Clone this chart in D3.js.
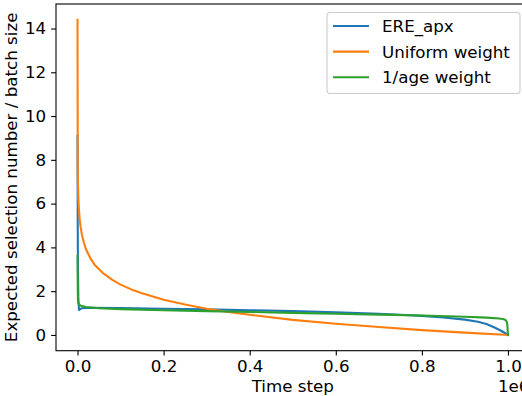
<!DOCTYPE html>
<html>
<head>
<meta charset="utf-8">
<script src="https://cdn.jsdelivr.net/npm/d3@7"></script>
<style>
body { margin: 0; background: #fff; }
svg { display: block; font-family: "DejaVu Sans", sans-serif; }
.axis text { font-size: 16.7px; fill: #000; font-family: "DejaVu Sans", sans-serif; }
.axis path, .axis line { stroke: #000; stroke-width: 1.1; }
</style>
</head>
<body>
<svg id="chart" width="522" height="396"></svg>
<script>
// time step in units of 1e6
var ereTime = [0, 0.0005, 0.001, 0.002, 0.0035, 0.006, 0.01, 0.03, 0.1, 0.2, 0.3, 0.4, 0.5, 0.6, 0.7, 0.75, 0.8, 0.85, 0.9, 0.93, 0.95, 0.97, 0.985, 1.0];
var ereValue = [9.1, 5.0, 3.0, 1.6, 1.14, 1.18, 1.22, 1.24, 1.23, 1.2, 1.17, 1.13, 1.09, 1.04, 0.97, 0.92, 0.87, 0.8, 0.7, 0.6, 0.5, 0.33, 0.18, 0];

var uniformTime = [0, 0.0005, 0.001, 0.002, 0.003, 0.005, 0.007, 0.01, 0.015, 0.02, 0.03, 0.04, 0.05, 0.06, 0.08, 0.1, 0.125, 0.15, 0.2, 0.25, 0.3, 0.35, 0.4, 0.5, 0.6, 0.7, 0.8, 0.9, 1.0];
var uniformValue = [14.4, 7.6, 6.9, 6.2, 5.8, 5.3, 4.96, 4.6, 4.2, 3.9, 3.5, 3.2, 3.0, 2.81, 2.53, 2.3, 2.08, 1.9, 1.61, 1.39, 1.2, 1.05, 0.92, 0.69, 0.51, 0.36, 0.22, 0.105, 0];

var ageTime = [0, 0.0005, 0.001, 0.002, 0.005, 0.01, 0.02, 0.05, 0.1, 0.2, 0.3, 0.4, 0.5, 0.6, 0.7, 0.8, 0.9, 0.95, 0.98, 0.99, 0.995, 0.998, 0.999, 1.0];
var ageValue = [3.6, 2.2, 1.6, 1.45, 1.36, 1.32, 1.28, 1.22, 1.18, 1.13, 1.09, 1.05, 1.01, 0.97, 0.93, 0.89, 0.83, 0.79, 0.75, 0.72, 0.67, 0.55, 0.3, 0];

var seriesNames = ["ERE_apx", "Uniform weight", "1/age weight"];
var seriesColors = ["#1f77b4", "#ff7f0e", "#2ca02c"];
var xTicks = [0, 0.2, 0.4, 0.6, 0.8, 1.0];
var yTicks = [0, 2, 4, 6, 8, 10, 12, 14];

var series = [
    {name: seriesNames[0], t: ereTime, v: ereValue},
    {name: seriesNames[1], t: uniformTime, v: uniformValue},
    {name: seriesNames[2], t: ageTime, v: ageValue}
];

var svg = d3.select('#chart');
var x = d3.scaleLinear().domain([-0.05, 1.05]).range([56, 529.5]);
var y = d3.scaleLinear().domain([-0.72, 15.12]).range([350.7, 4]);

svg.append('clipPath').attr('id', 'plotclip')
    .append('rect')
    .attr('x', x(-0.05)).attr('y', y(15.12))
    .attr('width', x(1.05) - x(-0.05)).attr('height', y(-0.72) - y(15.12));

var line = d3.line()
    .x(function(d) { return x(d[0]); })
    .y(function(d) { return y(d[1]); });

var plot = svg.append('g').attr('clip-path', 'url(#plotclip)');
series.forEach(function(s, i) {
    var pts = s.t.map(function(t, j) { return [t, s.v[j]]; });
    plot.append('path')
        .datum(pts)
        .attr('d', line)
        .attr('fill', 'none')
        .attr('stroke', seriesColors[i])
        .attr('stroke-width', 2.1)
        .attr('stroke-linejoin', 'round')
        .attr('stroke-linecap', 'square');
});

// frame
svg.append('rect')
    .attr('x', x(-0.05)).attr('y', y(15.12))
    .attr('width', x(1.05) - x(-0.05)).attr('height', y(-0.72) - y(15.12))
    .attr('fill', 'none').attr('stroke', '#000').attr('stroke-width', 1.1);

var xAxis = d3.axisBottom(x).tickValues(xTicks).tickFormat(d3.format('.1f'))
    .tickSize(4.9).tickPadding(4.9).tickSizeOuter(0);
var yAxis = d3.axisLeft(y).tickValues(yTicks).tickFormat(d3.format('d'))
    .tickSize(4.9).tickPadding(4.9).tickSizeOuter(0);

var gx = svg.append('g').attr('class', 'axis')
    .attr('transform', 'translate(0,' + y(-0.72) + ')')
    .call(xAxis);
gx.select('.domain').remove();
var gy = svg.append('g').attr('class', 'axis')
    .attr('transform', 'translate(' + x(-0.05) + ',0)')
    .call(yAxis);
gy.select('.domain').remove();

// labels
svg.append('text')
    .attr('x', (x(-0.05) + x(1.05)) / 2).attr('y', 392)
    .attr('text-anchor', 'middle').style('font-size', '16.7px')
    .text('Time step');
svg.append('text')
    .attr('x', x(1.05)).attr('y', 392)
    .attr('text-anchor', 'end').style('font-size', '16.7px')
    .text('1e6');
svg.append('text')
    .attr('transform', 'translate(17,' + ((y(15.12) + y(-0.72)) / 2) + ') rotate(-90)')
    .attr('text-anchor', 'middle').style('font-size', '16.7px')
    .text('Expected selection number / batch size');

// legend
var lg = svg.append('g').attr('transform', 'translate(327,12.5)');
lg.append('rect')
    .attr('width', 193).attr('height', 81).attr('rx', 2.8)
    .attr('fill', '#fff').attr('fill-opacity', 0.8)
    .attr('stroke', '#cccccc').attr('stroke-width', 1.1);
series.forEach(function(s, i) {
    var ly = 13.5 + i * 25.6;
    lg.append('line')
        .attr('x1', 6).attr('x2', 42).attr('y1', ly).attr('y2', ly)
        .attr('stroke', seriesColors[i]).attr('stroke-width', 2.1);
    lg.append('text')
        .attr('x', 55).attr('y', ly + 6)
        .style('font-size', '16.7px')
        .text(s.name);
});
</script>
</body>
</html>
